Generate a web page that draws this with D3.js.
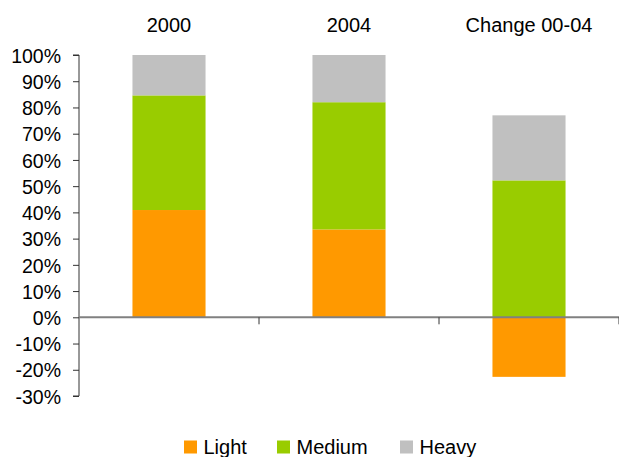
<!DOCTYPE html>
<html>
<head>
<meta charset="utf-8">
<script src="https://cdn.jsdelivr.net/npm/d3@7"></script>
<style>
  html, body { margin: 0; padding: 0; background: #fff; }
  svg { display: block; font-family: "Liberation Sans", Arial, sans-serif; }
</style>
</head>
<body>
<svg id="chart" width="619" height="457"></svg>
<script>
// Vehicle mix shares (%) by period, plus change between 2000 and 2004
const categories = ["2000", "2004", "Change 00-04"];
const seriesNames = ["Light", "Medium", "Heavy"];
const light  = [40.9, 33.5, -22.7];
const medium = [43.7, 48.5, 52.2];
const heavy  = [15.4, 18.0, 24.8];
const colors = ["#FF9900", "#99CC00", "#C0C0C0"];
const yTicks = [-30, -20, -10, 0, 10, 20, 30, 40, 50, 60, 70, 80, 90, 100];

const rows = categories.map((c, i) => ({
  cat: c, Light: light[i], Medium: medium[i], Heavy: heavy[i]
}));

const svg = d3.select("#chart");
const plotLeft = 79, plotRight = 619, plotTop = 55, plotBottom = 396;

const x = d3.scaleBand()
  .domain(categories)
  .range([plotLeft, plotRight])
  .paddingInner(0.594)
  .paddingOuter(0.297);

const y = d3.scaleLinear().domain([-30, 100]).range([plotBottom, plotTop]);

const stacked = d3.stack()
  .keys(seriesNames)
  .offset(d3.stackOffsetDiverging)(rows);

// stacked bars
svg.append("g").selectAll("g")
  .data(stacked)
  .join("g")
  .attr("fill", (d, i) => colors[i])
  .selectAll("rect")
  .data(d => d)
  .join("rect")
  .attr("x", d => x(d.data.cat))
  .attr("width", x.bandwidth())
  .attr("y", d => y(Math.max(d[0], d[1])))
  .attr("height", d => Math.abs(y(d[0]) - y(d[1])));

// value axis
const yAxis = d3.axisLeft(y)
  .tickValues(yTicks)
  .tickSize(6)
  .tickPadding(12)
  .tickFormat(d => d + "%");
const gy = svg.append("g")
  .attr("transform", `translate(${plotLeft},0)`)
  .call(yAxis);
gy.select(".domain").attr("stroke", "#333").attr("d", `M-6,${y(100)}H0V${y(-30)}H-6`);
gy.selectAll(".tick line").attr("stroke", "#333");
gy.selectAll(".tick text")
  .attr("fill", "#000")
  .attr("font-size", "19.5px")
  .attr("dy", "0.37em")
  .attr("font-family", "Liberation Sans, Arial, sans-serif");

// zero baseline with category separators
svg.append("line")
  .attr("x1", plotLeft).attr("x2", plotRight)
  .attr("y1", y(0)).attr("y2", y(0))
  .attr("stroke", "#808080").attr("stroke-width", 2);
const bounds = categories.slice(1).map(c => x(c) - x.step() * x.paddingInner() / 2);
bounds.push(plotRight);
svg.append("g").selectAll("line")
  .data(bounds)
  .join("line")
  .attr("x1", d => d).attr("x2", d => d)
  .attr("y1", y(0)).attr("y2", y(0) + 7)
  .attr("stroke", "#333").attr("stroke-width", 1);

// category labels along the top
svg.append("g").selectAll("text")
  .data(categories)
  .join("text")
  .attr("x", d => x(d) + x.bandwidth() / 2)
  .attr("y", 31.5)
  .attr("text-anchor", "middle")
  .attr("font-size", "20px")
  .attr("fill", "#000")
  .text(d => d);

// legend
const legendX = [184, 277, 400];
const lg = svg.append("g").selectAll("g")
  .data(seriesNames)
  .join("g")
  .attr("transform", (d, i) => `translate(${legendX[i]},440.5)`);
lg.append("rect")
  .attr("width", 13).attr("height", 13)
  .attr("fill", (d, i) => colors[i]);
lg.append("text")
  .attr("x", 19.5).attr("y", 13)
  .attr("font-size", "20px")
  .attr("fill", "#000")
  .text(d => d);
</script>
</body>
</html>
